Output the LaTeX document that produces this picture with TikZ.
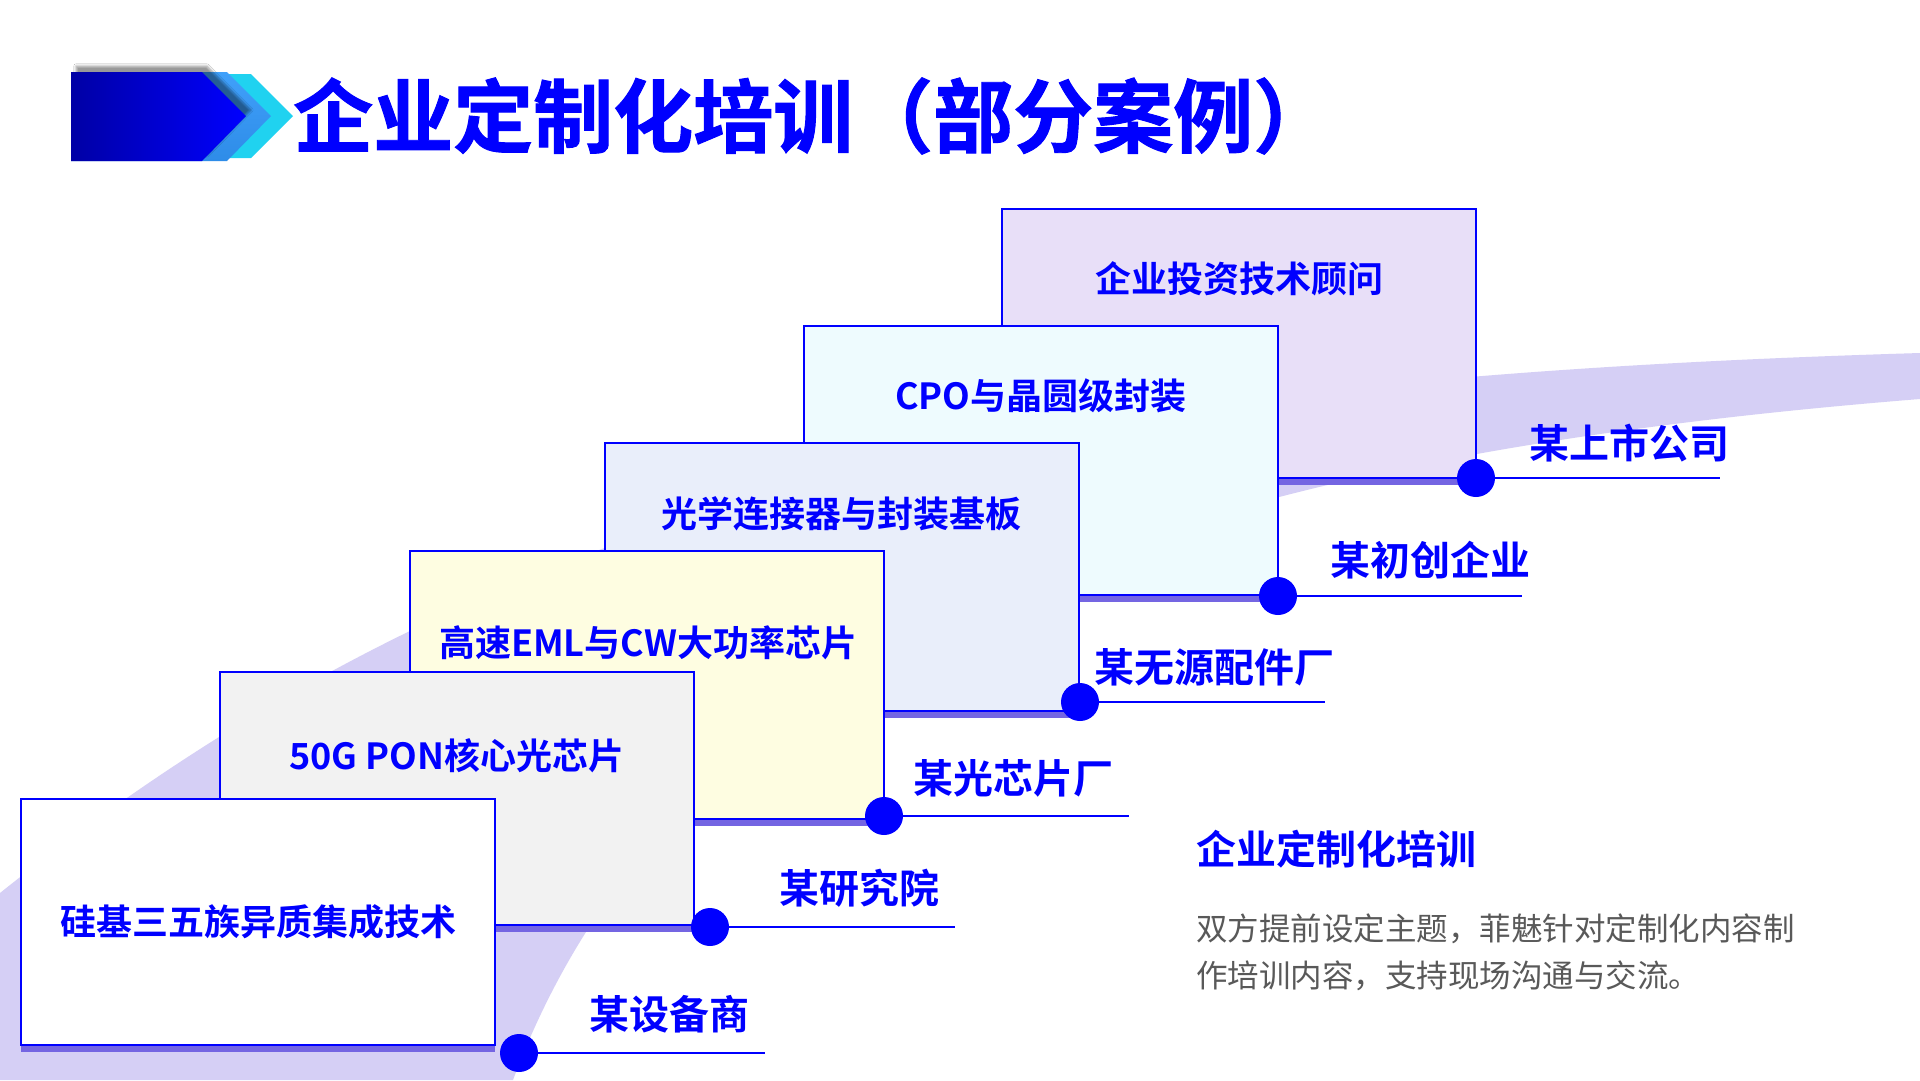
\documentclass[tikz,border=0pt]{standalone}
\usepackage{fontspec}
\setmainfont{Noto Sans CJK SC}[BoldFont={* Bold}]
\newfontfamily\titlefont{Noto Sans CJK SC Bold}[FakeBold=1.2]
\usetikzlibrary{shadows.blur}
\definecolor{bl}{RGB}{0,0,255}
\definecolor{bandc}{RGB}{213,207,245}
\definecolor{shadc}{RGB}{116,101,226}
\definecolor{fa}{RGB}{255,255,255}
\definecolor{fb}{RGB}{242,242,242}
\definecolor{fc}{RGB}{254,253,225}
\definecolor{fd}{RGB}{233,238,250}
\definecolor{fe}{RGB}{238,251,254}
\definecolor{ff}{RGB}{232,223,248}
\definecolor{grayt}{RGB}{89,89,89}
\definecolor{darkb}{RGB}{0,0,165}
\definecolor{midb}{RGB}{64,160,250}
\definecolor{midb2}{RGB}{46,140,232}
\definecolor{cyanb}{RGB}{32,210,240}
\tikzset{
  boxshape/.style={draw=bl, line width=2pt},
  boxshadow/.style={fill=shadc},
  boxtext/.style={text=bl, font=\fontsize{36}{40}\selectfont\bfseries, inner sep=0pt},
  labtext/.style={text=bl, font=\fontsize{40}{44}\selectfont\bfseries, inner sep=0pt, anchor=west},
  dotn/.style={circle, fill=bl, minimum size=38pt, inner sep=0pt},
  lnk/.style={draw=bl, line width=2pt},
}
\begin{document}
\begin{tikzpicture}[x=1pt,y=-1pt]
\useasboundingbox (0,0) rectangle (1920,1080);
\fill[white] (0,0) rectangle (1920,1080);
% background band
\fill[bandc] (0,893) .. controls (500,493) and (1020,380) .. (1920,353) -- (1920,399) .. controls (1220,455) and (688,610) .. (513,1080) -- (0,1080) -- cycle;
% header arrow
\fill[cyanb] (71,74) -- (251,74) -- (293,116) -- (251,158) -- (71,158) -- cycle;
\shade[top color=midb, bottom color=midb2] (71,72) -- (227,72) -- (271,116) -- (227,161) -- (71,161) -- cycle;
\path[blur shadow={shadow xshift=5pt, shadow yshift=6pt, shadow opacity=40, shadow blur steps=8}, left color=darkb, right color=bl] (71,72) -- (202,72) -- (246,116) -- (202,161) -- (71,161) -- cycle;
\node[anchor=west, inner sep=0pt, text=bl, font=\fontsize{80}{90}\selectfont\titlefont] (title) at (293,116) {企业定制化培训（部分案例）};
% boxes, back to front
\fill[boxshadow] (1002,476) rectangle (1476,485);
\path[boxshape, fill=ff] (1002,209) rectangle (1476,478);
\fill[boxshadow] (804,593) rectangle (1278,602);
\path[boxshape, fill=fe] (804,326) rectangle (1278,595);
\fill[boxshadow] (605,709) rectangle (1079,718);
\path[boxshape, fill=fd] (605,443) rectangle (1079,711);
\fill[boxshadow] (410,817) rectangle (884,826);
\path[boxshape, fill=fc] (410,551) rectangle (884,819);
\fill[boxshadow] (220,923) rectangle (694,932);
\path[boxshape, fill=fb] (220,672) rectangle (694,925);
\fill[boxshadow] (21,1043) rectangle (495,1052);
\path[boxshape, fill=fa] (21,799) rectangle (495,1045);
% box texts
\node[boxtext] (t6) at (1239,279) {企业投资技术顾问};
\node[boxtext] (t5) at (1041,396) {CPO与晶圆级封装};
\node[boxtext] (t4) at (841,514) {光学连接器与封装基板};
\node[boxtext] (t3) at (648,643) {高速EML与CW大功率芯片};
\node[boxtext] (t2) at (457,756) {50G PON核心光芯片};
\node[boxtext] (t1) at (258,922) {硅基三五族异质集成技术};
% dots and leader lines
\node[dotn] (d1) at (519,1053) {};
\node[dotn] (d2) at (710,927) {};
\node[dotn] (d3) at (884,816) {};
\node[dotn] (d4) at (1080,702) {};
\node[dotn] (d5) at (1278,596) {};
\node[dotn] (d6) at (1476,478) {};
\coordinate (e1) at (765,1053);
\coordinate (e2) at (955,927);
\coordinate (e3) at (1129,816);
\coordinate (e4) at (1325,702);
\coordinate (e5) at (1522,596);
\coordinate (e6) at (1720,478);
\draw[lnk] (d1) -- (e1);
\draw[lnk] (d2) -- (e2);
\draw[lnk] (d3) -- (e3);
\draw[lnk] (d4) -- (e4);
\draw[lnk] (d5) -- (e5);
\draw[lnk] (d6) -- (e6);
% labels
\node[labtext] (l1) at (589,1014) {某设备商};
\node[labtext] (l2) at (779,888) {某研究院};
\node[labtext] (l3) at (913,778) {某光芯片厂};
\node[labtext] (l4) at (1094,667) {某无源配件厂};
\node[labtext] (l5) at (1330,560) {某初创企业};
\node[labtext] (l6) at (1529,443) {某上市公司};
% description
\node[labtext] (dh) at (1196,849) {企业定制化培训};
\node[anchor=west, inner sep=0pt, text=grayt, font=\fontsize{31.5}{40}\selectfont] (db1) at (1196,929) {双方提前设定主题，菲魅针对定制化内容制};
\node[anchor=west, inner sep=0pt, text=grayt, font=\fontsize{31.5}{40}\selectfont] (db2) at (1196,976) {作培训内容，支持现场沟通与交流。};
\end{tikzpicture}
\end{document}
